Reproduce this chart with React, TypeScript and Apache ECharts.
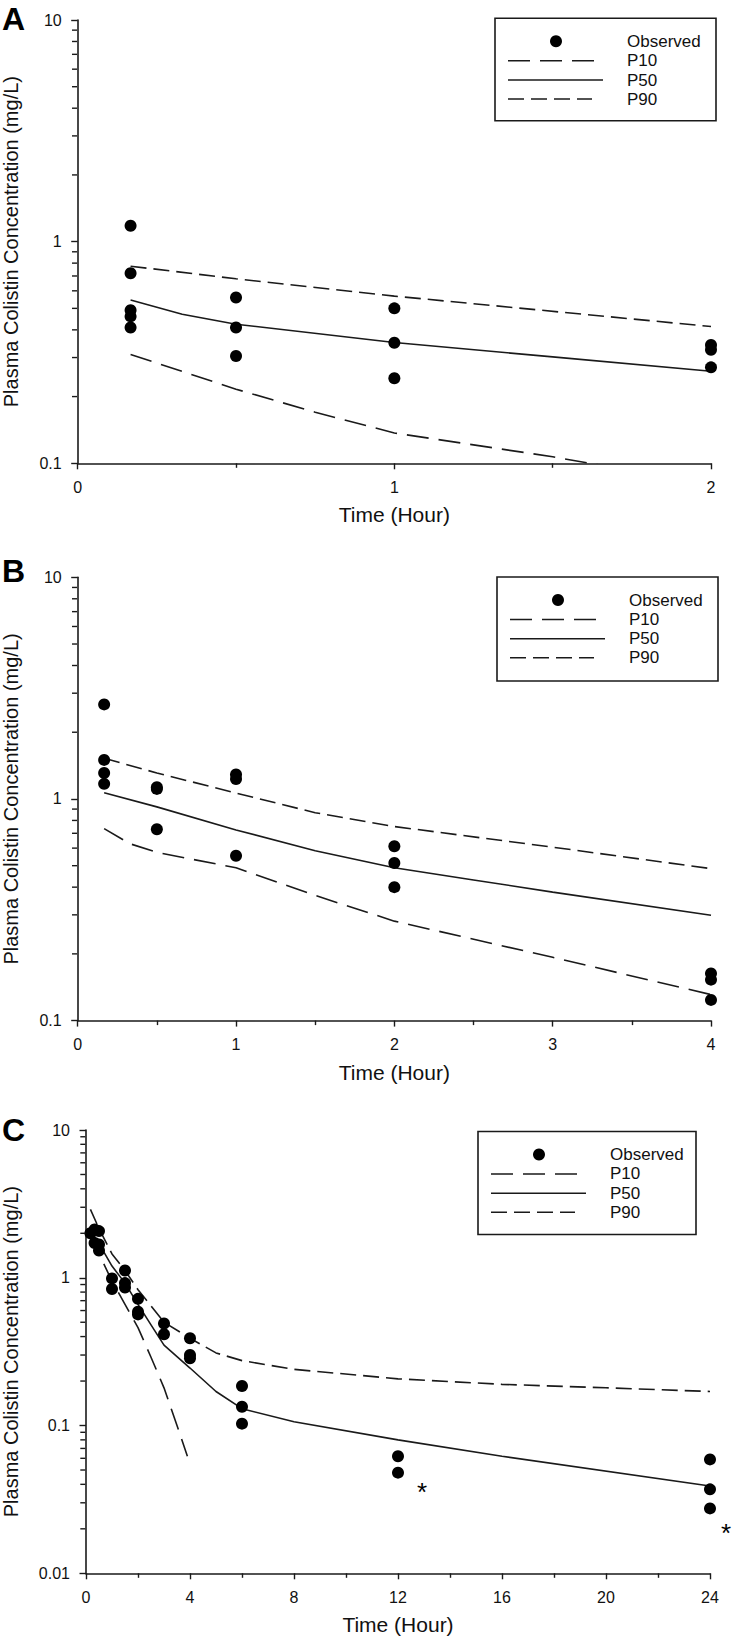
import React, { useEffect, useRef } from "react";
import * as echarts from "echarts";

// ---------- Data ----------
// Panel A (0-2 h)
const obsA: number[][] = [
  [0.167, 1.18], [0.167, 0.72], [0.167, 0.49], [0.167, 0.46], [0.167, 0.41],
  [0.5, 0.56], [0.5, 0.41], [0.5, 0.305],
  [1, 0.5], [1, 0.35], [1, 0.242],
  [2, 0.342], [2, 0.325], [2, 0.271],
];
const p10A: number[][] = [[0.167, 0.31], [0.5, 0.216], [0.75, 0.17], [1, 0.137], [1.5, 0.107], [2, 0.08]];
const p50A: number[][] = [[0.167, 0.545], [0.33, 0.47], [0.5, 0.424], [1, 0.351], [1.5, 0.302], [2, 0.26]];
const p90A: number[][] = [[0.167, 0.775], [0.5, 0.68], [1, 0.568], [2, 0.414]];

// Panel B (0-4 h)
const obsB: number[][] = [
  [0.167, 2.67], [0.167, 1.5], [0.167, 1.31], [0.167, 1.17],
  [0.5, 1.13], [0.5, 1.11], [0.5, 0.73],
  [1, 1.29], [1, 1.23], [1, 0.554],
  [2, 0.612], [2, 0.514], [2, 0.4],
  [4, 0.163], [4, 0.153], [4, 0.124],
];
const p10B: number[][] = [[0.167, 0.735], [0.33, 0.628], [0.5, 0.574], [1, 0.489], [1.5, 0.367], [2, 0.281], [3, 0.193], [4, 0.131]];
const p50B: number[][] = [[0.167, 1.067], [0.5, 0.921], [1, 0.725], [1.5, 0.584], [2, 0.489], [2.5, 0.431], [3, 0.38], [4, 0.299]];
const p90B: number[][] = [[0.167, 1.526], [0.5, 1.31], [1, 1.063], [1.5, 0.867], [2, 0.751], [3, 0.606], [4, 0.485]];

// Panel C (0-24 h)
const obsC: number[][] = [
  [0.17, 2.0], [0.33, 2.12], [0.33, 1.72], [0.5, 2.07], [0.5, 1.68], [0.5, 1.53],
  [1, 0.99], [1, 0.84],
  [1.5, 1.12], [1.5, 0.92], [1.5, 0.86],
  [2, 0.72], [2, 0.59], [2, 0.565],
  [3, 0.49], [3, 0.415],
  [4, 0.39], [4, 0.3], [4, 0.285],
  [6, 0.185], [6, 0.134], [6, 0.103],
  [12, 0.062], [12, 0.048],
  [24, 0.059], [24, 0.037], [24, 0.0275],
];
const p10C: number[][] = [[0.17, 1.95], [0.5, 1.45], [1, 0.95], [1.5, 0.66], [2, 0.46], [2.5, 0.29], [3, 0.18], [3.5, 0.1], [3.9, 0.062]];
const p50C: number[][] = [[0.17, 2.1], [0.5, 1.7], [1, 1.2], [1.5, 0.92], [2, 0.66], [2.5, 0.48], [3, 0.35], [4, 0.245], [5, 0.17], [6, 0.13], [8, 0.106], [12, 0.08], [16, 0.062], [24, 0.039]];
const p90C: number[][] = [[0.17, 2.9], [0.5, 2.15], [1, 1.45], [1.5, 1.12], [2, 0.83], [3, 0.5], [4, 0.39], [5, 0.31], [6, 0.275], [8, 0.24], [12, 0.207], [16, 0.19], [20, 0.18], [24, 0.17]];

// Axes
const xMaxes = [2, 4, 24];
const xIntervals = [1, 1, 4];
const yMins = [0.1, 0.1, 0.01];
const yMax = 10;
const minorY2 = [0.2, 0.3, 0.4, 0.5, 0.6, 0.7, 0.8, 0.9, 2, 3, 4, 5, 6, 7, 8, 9];
const minorY3 = [0.02, 0.03, 0.04, 0.05, 0.06, 0.07, 0.08, 0.09, ...minorY2];
const panelLabels = ["A", "B", "C"];
const legendNames = ["Observed", "P10", "P50", "P90"];
const xTitle = "Time (Hour)";
const yTitle = "Plasma Colistin Concentration (mg/L)";

// ---------- Layout ----------
const grids = [
  { left: 77.7, top: 20, width: 633.3, height: 443.3 },
  { left: 77.7, top: 577.3, width: 633.3, height: 443.3 },
  { left: 86, top: 1130, width: 624, height: 443.3 },
];
const legendBoxes = [
  { x: 495, y: 18.3, w: 221, h: 102.4 },
  { x: 497, y: 577, w: 221, h: 104 },
  { x: 478, y: 1131.5, w: 218, h: 103 },
];
const labelPos = [19, 571, 1130];
const FONT = "'Liberation Sans', Arial, sans-serif";
const INK = "#1a1a1a";
const DASH_P10 = [22, 10];
const DASH_P90 = [16, 7];

function legendGraphic(b: { x: number; y: number; w: number; h: number }) {
  const rows = [23, 42.4, 61.7, 80.7];
  const els: any[] = [
    { type: "rect", z: 100, shape: { x: b.x, y: b.y, width: b.w, height: b.h }, style: { fill: "#fff", stroke: INK, lineWidth: 1.6 } },
    { type: "circle", z: 101, shape: { cx: b.x + 61, cy: b.y + rows[0], r: 6 }, style: { fill: "#000" } },
    { type: "line", z: 101, shape: { x1: b.x + 13, y1: b.y + rows[1], x2: b.x + 99, y2: b.y + rows[1] }, style: { stroke: INK, lineWidth: 1.5, lineDash: DASH_P10 } },
    { type: "line", z: 101, shape: { x1: b.x + 13, y1: b.y + rows[2], x2: b.x + 108, y2: b.y + rows[2] }, style: { stroke: INK, lineWidth: 1.5 } },
    { type: "line", z: 101, shape: { x1: b.x + 13, y1: b.y + rows[3], x2: b.x + 97, y2: b.y + rows[3] }, style: { stroke: INK, lineWidth: 1.5, lineDash: DASH_P90 } },
  ];
  legendNames.forEach((n, i) => {
    els.push({
      type: "text", z: 101, x: b.x + 132, y: b.y + rows[i],
      style: { text: n, fill: "#111", font: `17px ${FONT}`, textVerticalAlign: "middle", textAlign: "left" },
    });
  });
  return els;
}

export default function App() {
  const ref = useRef<HTMLDivElement>(null);
  useEffect(() => {
    if (!ref.current) return;
    const chart = echarts.init(ref.current, null, { renderer: "svg" });
    const obs = [obsA, obsB, obsC];
    const p10 = [p10A, p10B, p10C];
    const p50 = [p50A, p50B, p50C];
    const p90 = [p90A, p90B, p90C];
    const minors = [minorY2, minorY2, minorY3];

    const series: any[] = [];
    for (let i = 0; i < 3; i++) {
      const lineBase = { type: "line", xAxisIndex: i, yAxisIndex: i, symbol: "none", showSymbol: false, clip: true, silent: true };
      series.push({ ...lineBase, name: "P10", data: p10[i], lineStyle: { color: INK, width: 1.6, type: DASH_P10 } });
      series.push({ ...lineBase, name: "P50", data: p50[i], lineStyle: { color: INK, width: 1.6, type: "solid" } });
      series.push({ ...lineBase, name: "P90", data: p90[i], lineStyle: { color: INK, width: 1.6, type: DASH_P90 } });
      series.push({
        type: "scatter", name: "Observed", xAxisIndex: i, yAxisIndex: i, data: obs[i],
        symbol: "circle", symbolSize: 12, itemStyle: { color: "#000", opacity: 1 }, silent: true, z: 5,
      });
      // minor log ticks on the y axis (2..9 of each decade), drawn as short marks at x = 0
      series.push({
        type: "scatter", name: "minorTicks", xAxisIndex: i, yAxisIndex: i, silent: true, clip: false,
        data: minors[i].map((v) => [0, v]),
        symbol: "rect", symbolSize: [5, 1.4], symbolOffset: [-3.2, 0],
        itemStyle: { color: INK, opacity: 1 }, z: 6,
      });
    }

    const graphic: any[] = [];
    legendBoxes.forEach((b) => graphic.push(...legendGraphic(b)));
    panelLabels.forEach((l, i) => {
      graphic.push({
        type: "text", x: 2, y: labelPos[i], z: 100,
        style: { text: l, fill: "#000", font: `bold 32px ${FONT}`, textVerticalAlign: "middle" },
      });
    });
    graphic.push({ type: "text", x: 422, y: 1492, z: 100, style: { text: "*", fill: "#000", font: `26px ${FONT}`, textAlign: "center", textVerticalAlign: "middle" } });
    graphic.push({ type: "text", x: 726, y: 1533, z: 100, style: { text: "*", fill: "#000", font: `26px ${FONT}`, textAlign: "center", textVerticalAlign: "middle" } });

    chart.setOption({
      animation: false,
      backgroundColor: "#fff",
      grid: grids.map((g) => ({ ...g, containLabel: false, outerBoundsMode: "none" })),
      xAxis: grids.map((_g, i) => ({
        type: "value", gridIndex: i, min: 0, max: xMaxes[i], interval: xIntervals[i],
        axisLine: { onZero: false, lineStyle: { color: INK, width: 1.6 } },
        axisTick: { show: true, length: 6, lineStyle: { color: INK, width: 1.4 } },
        minorTick: { show: true, splitNumber: 2, length: 4.5, lineStyle: { color: INK, width: 1.4 } },
        splitLine: { show: false }, minorSplitLine: { show: false },
        axisLabel: { color: "#111", fontSize: 16, fontFamily: FONT, margin: 16 },
        name: xTitle, nameLocation: "middle", nameGap: 41,
        nameTextStyle: { color: "#111", fontSize: 21, fontFamily: FONT },
      })),
      yAxis: grids.map((_g, i) => ({
        type: "log", logBase: 10, gridIndex: i, min: yMins[i], max: yMax,
        axisLine: { show: true, onZero: false, lineStyle: { color: INK, width: 1.6 } },
        axisTick: { show: true, length: 6.5, lineStyle: { color: INK, width: 1.4 } },
        splitLine: { show: false },
        axisLabel: { color: "#111", fontSize: 16, fontFamily: FONT, margin: 16 },
        name: yTitle, nameLocation: "middle", nameGap: i === 2 ? 65 : 57,
        nameTextStyle: { color: "#111", fontSize: 20, fontFamily: FONT },
      })),
      series,
      graphic,
    });
    return () => chart.dispose();
  }, []);
  return <div ref={ref} style={{ position: "absolute", left: 0, top: 0, width: 733, height: 1637 }} />;
}
